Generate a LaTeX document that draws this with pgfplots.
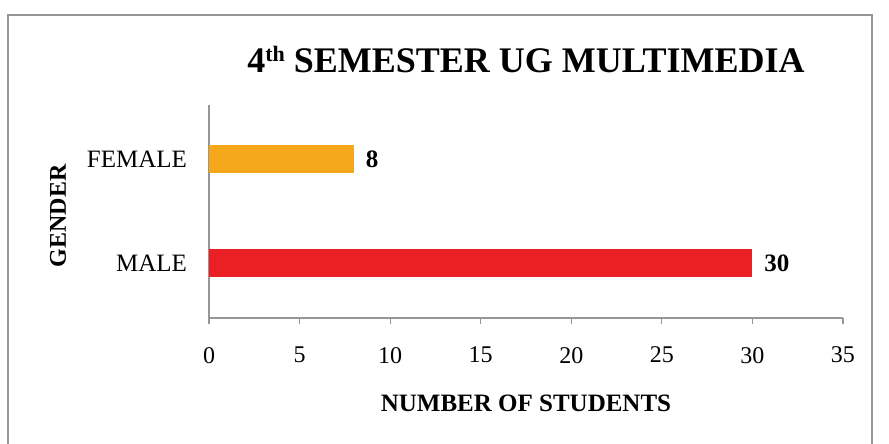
\documentclass[border=0pt]{standalone}
\usepackage{fontspec}
\setmainfont{Liberation Serif}
\usepackage{pgfplots}
\pgfplotsset{compat=1.18}
\definecolor{femaleorange}{RGB}{246,168,28}
\definecolor{malered}{RGB}{234,32,36}
\definecolor{framegray}{RGB}{150,150,150}
\begin{document}
\begin{tikzpicture}
% page: 889x444 px at 0.5pt per px
\useasboundingbox (0,0) rectangle (444.5pt,222pt);
\draw[framegray, line width=0.9pt] (4pt,-20pt) rectangle (436pt,214.5pt);
\begin{axis}[
    at={(104.5pt,63pt)},
    anchor=south west,
    scale only axis,
    width=317pt,
    height=106.5pt,
    xbar,
    xmin=0, xmax=35,
    ymin=-0.53, ymax=1.52,
    axis x line*=bottom,
    axis y line*=left,
    axis line style={framegray, line width=0.6pt},
    xtick={0,5,...,35},
    ytick={0,1},
    yticklabels={MALE,FEMALE},
    tick align=outside,
    major tick length=3pt,
    x tick style={framegray, line width=0.6pt},
    y tick style={draw=none},
    /pgf/number format/assume math mode=true,
    xticklabel style={font=\fontsize{12}{14}\selectfont, yshift=-8pt},
    yticklabel style={font=\fontsize{12.5}{14}\selectfont, xshift=-4.5pt},
    title={4{\fontsize{11}{12}\selectfont\raisebox{5.5pt}{th}} SEMESTER UG MULTIMEDIA},
    title style={at={(axis description cs:0.5,1.155)}, anchor=center,
        font=\bfseries\fontsize{18}{20}\selectfont},
    xlabel={NUMBER OF STUDENTS},
    xlabel style={at={(axis description cs:0.5,-0.4)}, anchor=center,
        font=\bfseries\fontsize{12.5}{14}\selectfont},
    ylabel={GENDER},
    ylabel style={at={(axis description cs:-0.238,0.48)}, anchor=center,
        font=\bfseries\fontsize{12}{14}\selectfont},
    bar width=14pt,
    bar shift=0pt,
    nodes near coords,
    every node near coord/.append style={font=\bfseries\fontsize{12.5}{14}\selectfont,
        anchor=west, xshift=2.5pt, text=black},
]
\addplot[fill=femaleorange, draw=none] coordinates {(8,1)};
\addplot[fill=malered, draw=none] coordinates {(30,0)};
\end{axis}
\end{tikzpicture}
\end{document}
